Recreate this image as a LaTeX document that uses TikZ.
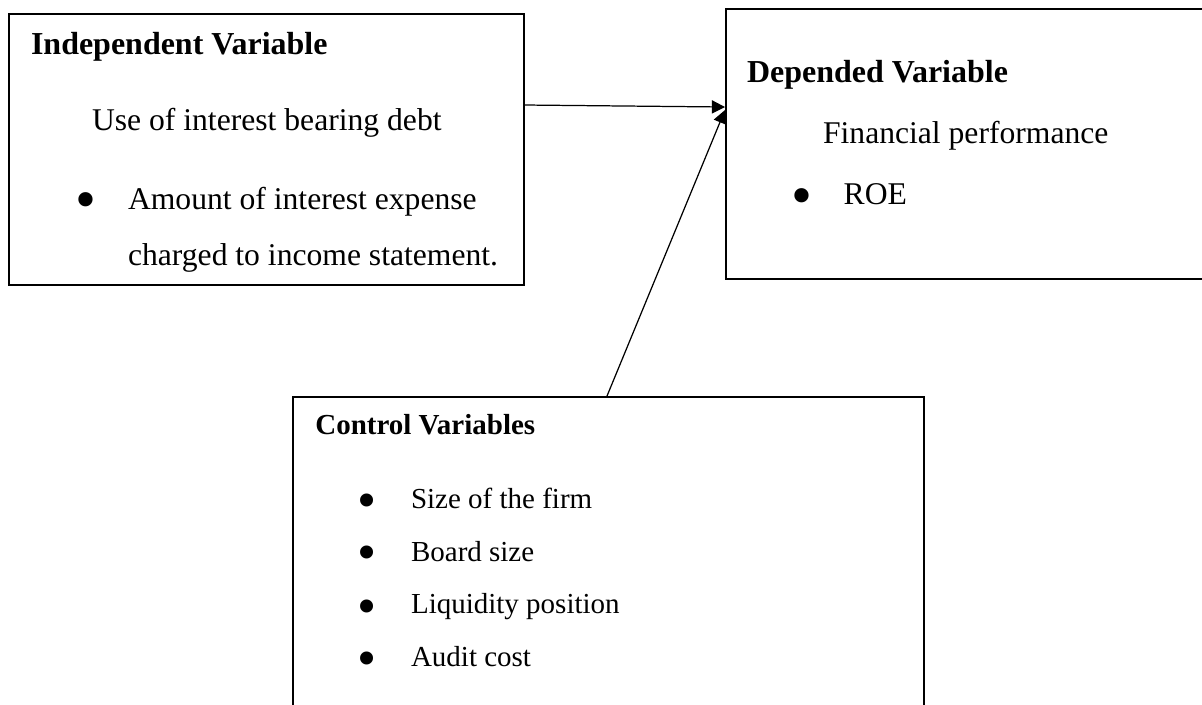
\documentclass[tikz,border=0pt]{standalone}
\usepackage{fontspec}
\setmainfont{Liberation Serif}
\usetikzlibrary{arrows.meta, positioning}

\begin{document}
\begin{tikzpicture}[x=0.02cm,y=-0.02cm,>={Triangle[length=7.5pt,width=7.5pt]},box/.style={draw, line width=1.2pt, inner sep=0pt},link/.style={->, line width=0.7pt},head/.style={font=\fontsize{18.2}{22}\selectfont\bfseries, anchor=base west, inner sep=0pt},body/.style={font=\fontsize{18}{22}\selectfont, anchor=base west, inner sep=0pt},ctrlhead/.style={font=\fontsize{16.5}{20}\selectfont\bfseries, anchor=base west, inner sep=0pt},ctrlbody/.style={font=\fontsize{16.5}{20}\selectfont, anchor=base west, inner sep=0pt},bullet/.style={inner sep=0pt, font=\fontsize{34}{40}\selectfont},ctrlbullet/.style={inner sep=0pt, font=\fontsize{31}{36}\selectfont}]
\useasboundingbox (0,0) rectangle (1202,704); \clip (0,0) rectangle (1202,704);
\node[box, minimum width=10.3cm, minimum height=5.42cm] (indep) at (266.5,149.5) {};
\node[box, minimum width=10.28cm, minimum height=5.4cm] (dep) at (983,144) {};
\node[box, minimum width=12.62cm, minimum height=7.26cm] (ctrl) at (608.5,578.5) {};
\node[head] (indeptitle) at (30.7,54) {Independent Variable};
\node[body] (indepname) at (91.7,130) {Use of interest bearing debt};
\node[bullet] (indepdot) at (86,206) {\textbullet};
\node[body] (indepitem) at (127.7,209) {Amount of interest expense};
\node[body] (indepitemb) at (127.7,265) {charged to income statement.};
\node[head] (deptitle) at (746.7,82) {Depended Variable};
\node[body] (depname) at (822.7,143) {Financial performance};
\node[bullet] (depdot) at (801.7,202) {\textbullet};
\node[body] (depitem) at (843.3,204) {ROE};
\node[ctrlhead] (ctrltitle) at (315,434) {Control Variables};
\node[ctrlbullet] (ctrldota) at (367.3,506) {\textbullet}; \node[ctrlbody] (ctrla) at (410.7,508.3) {Size of the firm};
\node[ctrlbullet] (ctrldotb) at (367.3,558.7) {\textbullet}; \node[ctrlbody] (ctrlb) at (410.7,561) {Board size};
\node[ctrlbullet] (ctrldotc) at (367.3,612) {\textbullet}; \node[ctrlbody] (ctrlc) at (410.7,613.3) {Liquidity position};
\node[ctrlbullet] (ctrldotd) at (367.3,664) {\textbullet}; \node[ctrlbody] (ctrld) at (410.7,666.7) {Audit cost};
\draw[link] ([yshift=0.89cm]indep.east) -- ([yshift=0.74cm]dep.west);
\draw[link] ([xshift=-0.03cm]ctrl.north) -- ([yshift=0.68cm]dep.west);
\end{tikzpicture}
\end{document}
